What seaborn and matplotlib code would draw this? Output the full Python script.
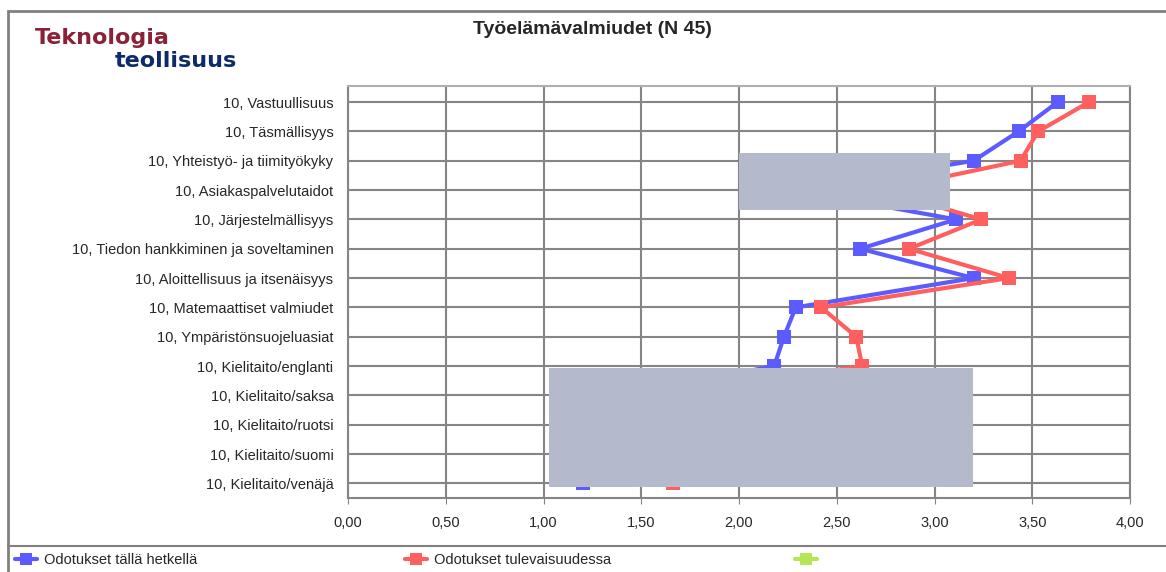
import numpy as np
import seaborn as sns
import matplotlib.pyplot as plt
from matplotlib.patches import Rectangle
from matplotlib.lines import Line2D

# Chart data
categories = [
    "10, Vastuullisuus",
    "10, Täsmällisyys",
    "10, Yhteistyö- ja tiimityökyky",
    "10, Asiakaspalvelutaidot",
    "10, Järjestelmällisyys",
    "10, Tiedon hankkiminen ja soveltaminen",
    "10, Aloittellisuus ja itsenäisyys",
    "10, Matemaattiset valmiudet",
    "10, Ympäristönsuojeluasiat",
    "10, Kielitaito/englanti",
    "10, Kielitaito/saksa",
    "10, Kielitaito/ruotsi",
    "10, Kielitaito/suomi",
    "10, Kielitaito/venäjä",
]
now_values = [3.63, 3.43, 3.20, 2.28, 3.11, 2.62, 3.20, 2.29, 2.23, 2.18, 1.40, 1.65, 1.85, 1.20]
future_values = [3.79, 3.53, 3.44, 2.73, 3.24, 2.87, 3.38, 2.42, 2.60, 2.63, 1.60, 1.95, 2.20, 1.66]
series_names = ["Odotukset tällä hetkellä", "Odotukset tulevaisuudessa", ""]
x_ticks = [0.0, 0.5, 1.0, 1.5, 2.0, 2.5, 3.0, 3.5, 4.0]

blue = "#5B5BFF"
red = "#FF5F5F"
green = "#B5E655"
grid_col = "#858585"

sns.set_style("white")
plt.rcParams["font.family"] = ["Liberation Sans", "DejaVu Sans"]

fig = plt.figure(figsize=(11.66, 5.72), dpi=100)
ax = fig.add_axes([348 / 1166, 1 - 498 / 572, (1130 - 348) / 1166, (498 - 86) / 572])

pos = np.arange(len(categories))
sns.lineplot(x=now_values, y=pos, sort=False, estimator=None, color=blue,
             marker="s", markersize=10, markeredgewidth=0, linewidth=3, ax=ax, zorder=3)
sns.lineplot(x=future_values, y=pos, sort=False, estimator=None, color=red,
             marker="s", markersize=10, markeredgewidth=0, linewidth=3, ax=ax, zorder=3)

ax.set_xlim(0, 4)
ax.set_ylim(len(categories) - 0.5, -0.55)
ax.set_xticks(x_ticks)
ax.set_xticklabels([f"{t:.2f}".replace(".", ",") for t in x_ticks], fontsize=10.5)
ax.set_yticks(pos)
ax.set_yticklabels(categories, fontsize=10.5)
ax.grid(True, color=grid_col, linewidth=1.5)
ax.set_axisbelow(True)
ax.tick_params(axis="x", bottom=True, length=4, color=grid_col, pad=9)
ax.tick_params(axis="y", left=False, pad=7)
for s in ax.spines.values():
    s.set_color(grid_col)
    s.set_linewidth(1.5)
ax.spines["top"].set_color("#b0b0b0")

# gray cover boxes
ax.add_patch(Rectangle((2.0, 1.74), 1.08, 1.95, facecolor="#B4B9CC", edgecolor="none", zorder=5))
ax.add_patch(Rectangle((1.028, 9.08), 2.17, 4.06, facecolor="#B4B9CC", edgecolor="none", zorder=5))

# chart frame and legend divider
fig.add_artist(Rectangle((8 / 1166, -0.1), 1.1, 1 - 11 / 572 + 0.1, transform=fig.transFigure,
                         fill=False, edgecolor="#808080", linewidth=2))
fig.add_artist(Line2D([8 / 1166, 1], [1 - 546 / 572] * 2, transform=fig.transFigure,
                      color="#808080", linewidth=1.5))

fig.text(592 / 1166, 1 - 30 / 572, "Työelämävalmiudet (N 45)", ha="center", va="center",
         fontsize=14, fontweight="bold")

# logo
fig.text(35 / 1166, 1 - 44 / 572, "Teknologia", color="#8A2136", fontsize=16,
         fontweight="bold", family="DejaVu Sans", va="baseline", ha="left")
fig.text(115 / 1166, 1 - 67 / 572, "teollisuus", color="#0D2A6B", fontsize=16,
         fontweight="bold", family="DejaVu Sans", va="baseline", ha="left")

# legend, one entry per slot
for x0, c, name in zip([15, 405, 795], (blue, red, green), series_names):
    h = Line2D([], [], color=c, marker="s", markersize=9, linewidth=3, markeredgewidth=0)
    leg = fig.legend([h], [name], loc="center left", bbox_to_anchor=(x0 / 1166, 1 - 560 / 572),
                     frameon=False, fontsize=10.5, handlelength=1.5, handletextpad=0.5,
                     borderaxespad=0, borderpad=0)

fig.savefig("out.png", dpi=100)
